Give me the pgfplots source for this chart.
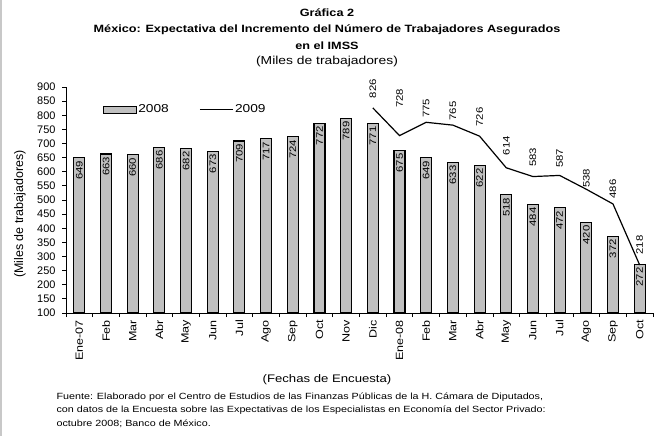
\documentclass[border=0pt]{standalone}
\usepackage{fontspec}
\setmainfont[FakeStretch=1.2]{Liberation Sans}
\newfontfamily\rotfont[FakeStretch=1.2]{Liberation Sans}
\newfontfamily\tickfont{Liberation Sans}
\usepackage{pgfplots}
\pgfplotsset{compat=1.18}
\usepackage{pgfplotstable}
\definecolor{barfill}{RGB}{192,192,192}
\definecolor{stripgray}{RGB}{200,200,200}

\pgfplotstableread{
x y
0 649
1 663
2 660
3 686
4 682
5 673
6 709
7 717
8 724
9 772
10 789
11 771
12 675
13 649
14 633
15 622
16 518
17 484
18 472
19 420
20 372
21 272
}\bars

\pgfplotstableread{
x y lab off
11 826 826 9
12 728 728 27
13 775 775 4
14 765 765 4
15 726 726 9
16 614 614 12
17 583 583 9
18 587 587 7
19 538 538 1
20 486 486 5
21 270 218 10
}\linedata

\begin{document}
\begin{tikzpicture}
\useasboundingbox (-66bp,-123bp) rectangle (588bp,313bp);
\fill[stripgray] (-66bp,-123bp) rectangle (-64bp,313bp);
\begin{axis}[
  at={(0bp,0bp)}, anchor=south west,
  scale only axis, width=587bp, height=226bp,
  xmin=-0.5, xmax=21.5, ymin=100, ymax=900,
  axis x line*=bottom, axis y line*=left,
  axis line style={black, line width=0.8bp},
  tick style={black, line width=0.8bp},
  tick align=outside,
  major tick length=4bp,
  /pgf/number format/assume math mode=true,
  ytick={100,150,...,900},
  yticklabel style={font=\tickfont\fontsize{11}{13}\selectfont, xshift=-3bp},
  xtick={-0.5,0.5,...,21.5},
  xticklabels={},
  extra x ticks={0,1,...,21},
  extra x tick labels={Ene-07,Feb,Mar,Abr,May,Jun,Jul,Ago,Sep,Oct,Nov,Dic,Ene-08,Feb,Mar,Abr,May,Jun,Jul,Ago,Sep,Oct},
  extra x tick style={major tick length=0pt, tick label style={rotate=90, anchor=east, font=\rotfont\fontsize{10.5}{12}\selectfont, inner xsep=7bp}},
  clip=false,
  legend style={draw=none, fill=none, at={(0.057,0.9)}, anchor=west, legend columns=2,
    font=\fontsize{11.5}{13}\selectfont, nodes={inner xsep=1.5bp},
    /tikz/every even column/.append style={column sep=29bp}},
]
\addplot[ybar, bar width=11bp, fill=barfill, draw=black, line width=1.1bp,
  legend image code/.code={\draw[fill=barfill, draw=black, line width=1.1bp] (0bp,-3.5bp) rectangle (33bp,3.5bp);},
  nodes near coords,
  every node near coord/.append style={rotate=90, anchor=east, inner sep=2.5bp, font=\rotfont\fontsize{9.5}{11}\selectfont, black}]
  table[x=x,y=y]{\bars};
\addlegendentry{2008}
\addplot[black, line width=1.2bp, mark=none,
  legend image code/.code={\draw[black, line width=1.2bp] (0bp,0bp) -- (33bp,0bp);},
  point meta=explicit symbolic,
  visualization depends on={\thisrow{off}\as\myoff},
  nodes near coords,
  every node near coord/.append style={rotate=90, anchor=west, inner sep=0bp, xshift=\myoff bp, font=\rotfont\fontsize{9.5}{11}\selectfont}]
  table[x=x,y=y,meta=lab]{\linedata};
\addlegendentry{2009}
\end{axis}
\node[font=\bfseries\fontsize{10.6}{13}\selectfont] at (261bp,300bp) {Gráfica 2};
\node[font=\bfseries\fontsize{10.6}{13}\selectfont] at (261bp,283bp) {México: Expectativa del Incremento del Número de Trabajadores Asegurados};
\node[font=\bfseries\fontsize{10.6}{13}\selectfont] at (261bp,267bp) {en el IMSS};
\node[font=\fontsize{11.6}{13}\selectfont] at (261bp,251bp) {(Miles de trabajadores)};
\node[font=\tickfont\fontsize{12.5}{14}\selectfont, rotate=90] at (-46bp,99bp) {(Miles de trabajadores)};
\node[font=\fontsize{11}{13}\selectfont] at (261bp,-67bp) {(Fechas de Encuesta)};
\node[font=\fontsize{9}{11}\selectfont, anchor=west] at (-13bp,-84bp) {Fuente: Elaborado por el Centro de Estudios de las Finanzas Públicas de la H. Cámara de Diputados,};
\node[font=\fontsize{9}{11}\selectfont, anchor=west] at (-13bp,-97bp) {con datos de la Encuesta sobre las Expectativas de los Especialistas en Economía del Sector Privado:};
\node[font=\fontsize{9}{11}\selectfont, anchor=west] at (-13bp,-111bp) {octubre 2008; Banco de México.};
\end{tikzpicture}
\end{document}
